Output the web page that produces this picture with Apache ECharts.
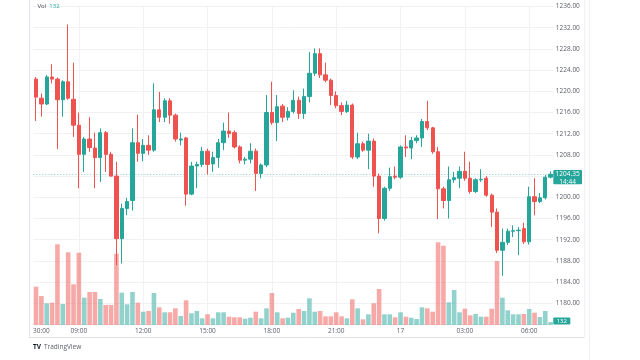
<!DOCTYPE html>
<html><head><meta charset="utf-8">
<script src="https://cdn.jsdelivr.net/npm/echarts@6/dist/echarts.min.js"></script>
<style>html,body{margin:0;padding:0;background:#fff}#c{width:640px;height:360px}</style>
</head><body><div id="c"></div>
<script>
// 15-minute candles, 07:00 (16th) .. 07:00 (17th)
const opens = [1222.3,1218.7,1217.6,1222.7,1222.3,1218.4,1221.8,1218.5,1213.6,1208.1,
1211.0,1209.3,1207.5,1212.2,1208.1,1204.0,1192.2,1197.9,1199.4,1210.3,
1208.3,1209.8,1208.9,1216.5,1215.1,1218.2,1215.5,1210.8,1211.2,1200.6,
1205.9,1206.2,1208.7,1206.3,1207.5,1210.3,1212.5,1212.2,1209.5,1207.0,
1207.2,1208.7,1204.5,1206.1,1216.0,1214.1,1217.2,1215.1,1216.2,1218.3,
1215.8,1219.0,1223.4,1227.1,1223.1,1222.1,1219.2,1217.3,1216.2,1217.4,
1207.6,1210.1,1208.9,1210.6,1204.0,1196.0,1201.7,1204.0,1203.8,1209.5,
1209.3,1210.7,1211.2,1214.3,1213.1,1208.6,1201.6,1199.4,1203.3,1203.6,
1204.9,1203.6,1201.1,1203.3,1203.6,1200.4,1197.2,1190.0,1191.5,1193.6,
1193.7,1194.1,1191.6,1200.1,1199.2,1199.9,1203.8];
const closes = [1218.9,1217.6,1222.7,1222.3,1218.4,1221.8,1218.7,1213.6,1208.1,1211.0,
1209.4,1207.5,1212.2,1208.1,1204.0,1192.2,1197.9,1199.2,1210.3,1208.3,
1209.8,1208.9,1216.5,1215.1,1218.2,1215.5,1211.0,1211.0,1200.6,1205.9,
1206.2,1208.7,1206.2,1207.5,1210.3,1212.5,1212.0,1209.5,1207.0,1207.2,
1208.7,1204.5,1206.1,1216.0,1214.1,1217.1,1215.1,1216.2,1218.3,1215.8,
1219.0,1223.4,1227.1,1223.1,1222.1,1219.2,1217.3,1216.2,1217.4,1207.6,
1210.1,1208.9,1210.6,1204.0,1196.0,1201.7,1203.9,1203.8,1209.5,1209.3,
1210.7,1211.2,1214.3,1213.1,1208.6,1201.6,1199.4,1203.3,1203.7,1204.9,
1203.6,1201.1,1203.3,1203.4,1200.4,1197.2,1190.0,1191.5,1193.6,1193.7,
1193.8,1191.6,1200.1,1199.2,1199.9,1203.8,1204.35];
const lows = [1214.4,1215.2,1217.4,1221.5,1209.1,1215.2,1218.4,1211.4,1201.7,1204.8,
1208.6,1201.7,1202.9,1204.8,1203.9,1187.2,1187.5,1196.6,1197.5,1206.7,
1206.8,1208.0,1208.6,1214.2,1214.2,1213.9,1210.5,1209.8,1198.4,1200.4,
1201.7,1205.7,1204.3,1204.8,1205.6,1208.9,1211.2,1209.2,1206.4,1206.2,
1206.4,1201.2,1203.6,1205.7,1213.7,1210.6,1214.2,1214.5,1215.8,1214.8,
1214.8,1217.9,1222.9,1222.5,1221.7,1217.4,1216.8,1215.5,1215.9,1207.2,
1207.2,1208.6,1205.3,1202.0,1193.2,1195.6,1201.2,1203.4,1203.5,1207.6,
1207.2,1210.2,1209.5,1212.7,1208.2,1195.9,1197.9,1196.0,1202.7,1201.7,
1203.1,1200.7,1200.8,1202.9,1200.1,1194.4,1189.5,1185.2,1191.0,1192.5,
1189.1,1191.2,1191.1,1196.6,1198.9,1199.6,1203.6];
const highs = [1222.7,1219.6,1223.1,1225.1,1222.6,1222.1,1232.6,1225.4,1216.0,1211.4,
1215.1,1212.2,1213.0,1212.5,1208.6,1206.7,1198.8,1199.9,1213.0,1215.6,
1211.0,1211.7,1221.5,1219.9,1218.7,1218.7,1215.8,1212.2,1211.4,1206.7,
1206.7,1209.5,1209.2,1208.6,1211.0,1214.1,1216.0,1212.6,1209.8,1207.6,
1210.2,1209.2,1206.4,1219.3,1221.8,1219.3,1217.6,1217.0,1220.2,1219.0,
1220.5,1227.4,1228.1,1228.1,1225.4,1222.4,1220.0,1217.9,1218.2,1217.7,
1212.2,1210.5,1212.0,1211.1,1204.5,1202.0,1205.6,1205.8,1209.8,1211.7,
1211.4,1211.7,1214.8,1218.2,1213.3,1209.5,1202.0,1205.8,1204.8,1205.8,
1208.6,1206.7,1203.6,1205.3,1204.0,1200.7,1197.9,1194.1,1194.1,1194.7,
1194.4,1195.2,1202.0,1203.6,1200.8,1204.2,1204.9];
const volumes = [38.3,29,21.7,22.3,80.7,21,72.7,40.7,72.3,27.3,
33,33,26,20,20,71.3,32.3,20.7,33,22.3,
13.3,14,32,17.7,12.7,12.7,16.7,9,24.7,11.7,
14,6.7,10.7,6.7,12.7,12.7,8.3,7.7,7.7,6.3,
7.3,13.3,6.7,16.7,32,12.7,6.7,7.3,12.3,16,
14,26.7,13.3,14,8.7,8.7,12.7,8.7,6.7,25.7,
16.7,5.7,10.7,21.7,36,10.7,10.7,7.7,12.7,8.3,
7.3,6,17.7,16.7,13.3,82.7,79.3,22.7,35,12.7,
16.3,9.7,11,8.3,8.3,16.3,64,27.3,14.7,10.7,
10.7,11,16,12.3,8,14,3];
const tickIndices = [1, 8, 20, 32, 44, 56, 68, 80, 92];
const tickLabels = ['30:00','09:00','12:00','15:00','18:00','21:00','17','03:00','06:00'];
const lastPrice = 1204.35;
const lastPriceText = '1204.35';
const countdownText = '14:44';
const lastVolumeText = '132';

const UP = '#26a69a', DOWN = '#ef5350';
const UPV = 'rgba(38,166,154,0.5)', DOWNV = 'rgba(239,83,80,0.5)';
const FONT = "'Open Sans', 'Noto Sans', sans-serif";

const categories = [];
for (let i = 0; i < opens.length; i++) {
  const m = 7 * 60 + i * 15, d = 16 + Math.floor(m / 1440), mm = m % 1440;
  categories.push(d + ' ' + String(Math.floor(mm / 60)).padStart(2, '0') + ':' + String(mm % 60).padStart(2, '0'));
}
const candleData = opens.map((o, i) => [o, closes[i], lows[i], highs[i]]);
const volData = volumes.map((v, i) => ({ value: v, itemStyle: { color: closes[i] >= opens[i] ? UPV : DOWNV } }));

const GL = 33.32, GR = 640 - 553.32;
const chart = echarts.init(document.getElementById('c'), null, { renderer: 'canvas' });
chart.setOption({
  animation: false,
  backgroundColor: '#ffffff',
  grid: [
    { left: GL, right: GR, top: 6.5, bottom: 35.5 },
    { left: GL, right: GR, top: 225, bottom: 35 }
  ],
  xAxis: [
    { type: 'category', gridIndex: 0, data: categories, boundaryGap: true,
      axisLine: { show: false }, axisTick: { show: false }, splitLine: { show: false },
      axisLabel: { show: true, margin: 3.5, fontSize: 6.5, fontFamily: FONT, color: '#5d606b',
        interval: (idx) => tickIndices.includes(idx),
        formatter: (v, idx) => { const k = tickIndices.indexOf(idx); return k >= 0 ? tickLabels[k] : ''; } } },
    { type: 'category', gridIndex: 1, data: categories, boundaryGap: true, show: false }
  ],
  yAxis: [
    { type: 'value', gridIndex: 0, position: 'right', min: 1176, max: 1236, interval: 4, scale: true,
      axisLine: { show: false }, axisTick: { show: false },
      splitLine: { show: true, lineStyle: { color: '#f1f2f5', width: 1 } },
      axisLabel: { margin: 2.5, fontSize: 6.5, fontFamily: FONT, color: '#5d606b', showMinLabel: false,
        formatter: (v) => v.toFixed(2) } },
    { type: 'value', gridIndex: 1, min: 0, max: 100, show: false }
  ],
  series: [
    { type: 'line', xAxisIndex: 0, yAxisIndex: 0, data: [], z: 1, silent: true,
      markLine: { silent: true, symbol: ['none', 'none'], animation: false, z: 1,
        label: { show: false },
        data: tickIndices.slice(1).map(i => ({ xAxis: categories[i], lineStyle: { color: '#f1f2f5', width: 1, type: 'solid' } }))
          .concat([{ yAxis: lastPrice, lineStyle: { color: UP, width: 1, type: [1, 2], opacity: 0.55 } }]) } },
    { type: 'bar', xAxisIndex: 1, yAxisIndex: 1, data: volData, barWidth: 4.6, z: 2, silent: true },
    { type: 'candlestick', xAxisIndex: 0, yAxisIndex: 0, data: candleData, barWidth: 3.8, z: 3, silent: true,
      itemStyle: { color: UP, color0: DOWN, borderColor: UP, borderColor0: DOWN, borderWidth: 1 } }
  ]
});

const py = chart.convertToPixel({ yAxisIndex: 0 }, lastPrice);
const vBase = chart.convertToPixel({ yAxisIndex: 1 }, 0);
chart.setOption({
  graphic: [
    { type: 'line', shape: { x1: 29.5, y1: 0, x2: 29.5, y2: 338 }, style: { stroke: '#e0e3eb', lineWidth: 1 }, silent: true },
    { type: 'line', shape: { x1: 29.5, y1: 337.5, x2: 585, y2: 337.5 }, style: { stroke: '#e0e3eb', lineWidth: 1 }, silent: true },
    { type: 'line', shape: { x1: 584.5, y1: 0, x2: 584.5, y2: 338 }, style: { stroke: '#eef0f3', lineWidth: 1 }, silent: true },
    { type: 'line', shape: { x1: 589.5, y1: 0, x2: 589.5, y2: 360 }, style: { stroke: '#eef0f3', lineWidth: 1 }, silent: true },
    { type: 'rect', shape: { x: 553.3, y: py - 4.2, width: 28.7, height: 14.3, r: 1 }, style: { fill: UP }, z: 10, silent: true },
    { type: 'text', x: 567.6, y: py, style: { text: lastPriceText, fill: '#fff', font: '6.5px ' + FONT, align: 'center', verticalAlign: 'middle' }, z: 11, silent: true },
    { type: 'text', x: 567.6, y: py + 7.4, style: { text: countdownText, fill: '#fff', font: '6.5px ' + FONT, align: 'center', verticalAlign: 'middle' }, z: 11, silent: true },
    { type: 'rect', shape: { x: 553.3, y: vBase - 7.5, width: 17, height: 7, r: 1 }, style: { fill: UP }, z: 10, silent: true },
    { type: 'text', x: 561.8, y: vBase - 4, style: { text: lastVolumeText, fill: '#fff', font: '6px ' + FONT, align: 'center', verticalAlign: 'middle' }, z: 11, silent: true },
    { type: 'text', x: 37.5, y: 6, style: { text: '{a|Vol}  {b|' + lastVolumeText + '}', font: '6px ' + FONT, verticalAlign: 'middle',
        rich: { a: { fill: '#3a3d48', fontSize: 6, fontFamily: FONT }, b: { fill: UP, fontSize: 6, fontFamily: FONT } } }, z: 11, silent: true },
    { type: 'text', x: 33, y: 347, style: { text: 'TV', fill: '#131722', font: 'bold 6.5px ' + FONT, verticalAlign: 'middle' }, z: 11, silent: true },
    { type: 'text', x: 44, y: 347, style: { text: 'TradingView', fill: '#5d606b', font: '6.5px ' + FONT, verticalAlign: 'middle' }, z: 11, silent: true }
  ]
});
</script></body></html>
